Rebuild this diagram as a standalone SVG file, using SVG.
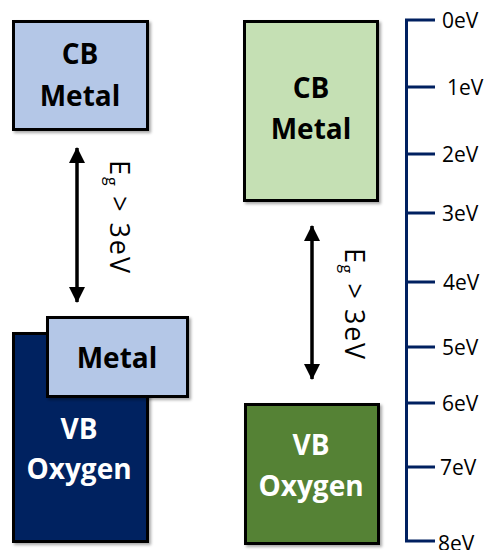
<svg xmlns="http://www.w3.org/2000/svg" width="488" height="550" viewBox="0 0 488 550">
<style>
.box{stroke:#000;stroke-width:3;filter:url(#sh)}
.lb{font-family:"Open Sans","Liberation Sans",sans-serif;font-weight:bold;font-size:28px;text-anchor:middle}
.eg{font-family:"Open Sans","Liberation Sans",sans-serif;font-size:27px;fill:#000}
.ax{font-family:"Open Sans","Liberation Sans",sans-serif;font-size:21px;fill:#000}
.arr{stroke:#000;stroke-width:3.5;fill:none}
.axis{stroke:#002060;stroke-width:3;fill:none}
</style>
<defs>
<filter id="sh" x="-10%" y="-10%" width="130%" height="130%">
<feGaussianBlur in="SourceAlpha" stdDeviation="1.5"/>
<feOffset dx="2" dy="2" result="b"/>
<feComponentTransfer><feFuncA type="linear" slope="0.35"/></feComponentTransfer>
<feMerge><feMergeNode/><feMergeNode in="SourceGraphic"/></feMerge>
</filter>
<marker id="ah" markerUnits="userSpaceOnUse" markerWidth="16" markerHeight="17" refX="15" refY="8" orient="auto-start-reverse" viewBox="0 0 16 16">
<path d="M0,0 L16,8 L0,16 Z" fill="#000"/>
</marker>
</defs>

<g id="left-cb">
<rect class="box" x="13.5" y="21.5" width="134" height="108" fill="#b4c7e7"/>
<text class="lb" x="80" y="64">CB</text>
<text class="lb" x="80" y="106">Metal</text>
</g>

<g id="left-vb">
<rect class="box" x="13.5" y="333.5" width="134" height="208" fill="#002060"/>
<text class="lb" x="79" y="439" fill="#fff">VB</text>
<text class="lb" x="79" y="479" fill="#fff">Oxygen</text>
</g>

<g id="left-metal">
<rect class="box" x="47.5" y="317.5" width="140" height="79" fill="#b4c7e7"/>
<text class="lb" x="117" y="368">Metal</text>
</g>

<g id="right-cb">
<rect class="box" x="244.5" y="21.5" width="133" height="179" fill="#c5e0b4"/>
<text class="lb" x="311" y="98">CB</text>
<text class="lb" x="311" y="139">Metal</text>
</g>

<g id="right-vb">
<rect class="box" x="245.5" y="404.5" width="133" height="139" fill="#548235"/>
<text class="lb" x="311" y="455" fill="#fff">VB</text>
<text class="lb" x="311" y="496" fill="#fff">Oxygen</text>
</g>

<g id="connectors">
<line class="arr" x1="77" y1="148" x2="77" y2="302" marker-start="url(#ah)" marker-end="url(#ah)"/>
<line class="arr" x1="312" y1="226" x2="312" y2="379" marker-start="url(#ah)" marker-end="url(#ah)"/>
</g>

<g id="labels">
<text class="eg" transform="translate(110,160) rotate(90)" textLength="113" lengthAdjust="spacing">E<tspan font-size="16" dy="4">g</tspan><tspan dy="-4"> &gt; 3eV</tspan></text>
<text class="eg" transform="translate(345,248) rotate(90)" textLength="111" lengthAdjust="spacing">E<tspan font-size="16" dy="4">g</tspan><tspan dy="-4"> &gt; 3eV</tspan></text>
</g>

<g id="axis">
<path class="axis" d="M435,20 H406.5 V541 H435 M406.5,87 H435 M406.5,154 H435 M406.5,213 H435 M406.5,282 H435 M406.5,347 H435 M406.5,403 H435 M406.5,467 H435"/>
<text class="ax" x="442" y="28">0eV</text>
<text class="ax" x="447" y="95">1eV</text>
<text class="ax" x="442" y="162">2eV</text>
<text class="ax" x="442" y="221">3eV</text>
<text class="ax" x="443" y="290">4eV</text>
<text class="ax" x="442" y="355">5eV</text>
<text class="ax" x="442" y="411">6eV</text>
<text class="ax" x="440" y="475">7eV</text>
<text class="ax" x="438" y="551">8eV</text>
</g>
</svg>
